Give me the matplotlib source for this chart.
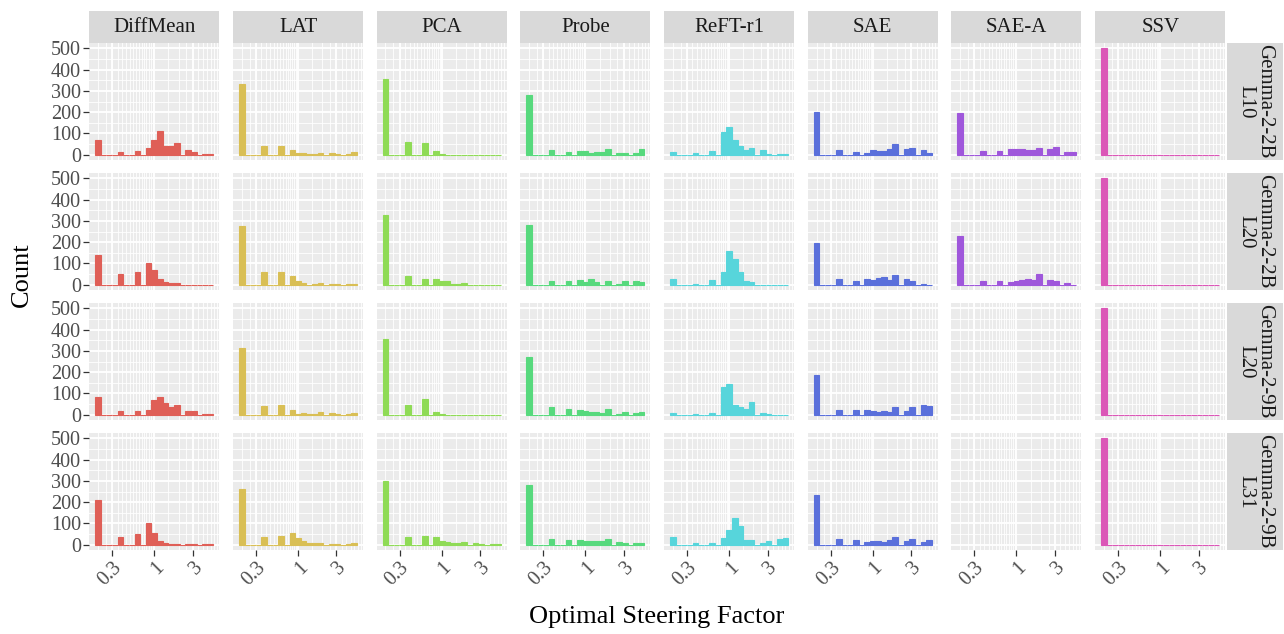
import numpy as np
import matplotlib
matplotlib.use("Agg")
from matplotlib import pyplot as plt
from matplotlib.patches import Rectangle

# histogram of optimal steering factor, one panel per method (cols) and model/layer (rows)
methods = ["DiffMean", "LAT", "PCA", "Probe", "ReFT-r1", "SAE", "SAE-A", "SSV"]
models = ["Gemma-2-2B\nL10", "Gemma-2-2B\nL20", "Gemma-2-9B\nL20", "Gemma-2-9B\nL31"]
colors = ["#DF5F57", "#D9BF55", "#8FDB56", "#57D97D", "#57D5DB", "#5A70DB", "#9F57DB", "#DB57B7"]

# factor range is 0.2 .. 5, 21 log-spaced bins
factor_min = 0.2
factor_max = 5.0
n_bins = 21

# counts per bin, one list per method (None = no data)
counts_2b_l10 = [
    [70, 0, 0, 0, 14, 0, 0, 19, 0, 30, 70, 113, 42, 42, 56, 0, 20, 14, 0, 3, 3],
    [330, 0, 0, 0, 39, 0, 0, 39, 0, 23, 9, 9, 2, 5, 9, 0, 9, 2, 0, 5, 11],
    [356, 0, 0, 0, 61, 0, 0, 56, 0, 19, 5, 0, 0, 0, 0, 0, 0, 0, 0, 0, 0],
    [281, 0, 0, 0, 23, 0, 0, 14, 0, 19, 19, 9, 14, 14, 28, 0, 9, 9, 0, 9, 28],
    [14, 0, 0, 0, 9, 0, 0, 19, 0, 108, 131, 70, 42, 23, 33, 0, 23, 5, 0, 5, 5],
    [202, 0, 0, 0, 23, 0, 0, 14, 0, 9, 23, 19, 19, 28, 52, 0, 28, 33, 0, 23, 9],
    [197, 0, 0, 0, 19, 0, 0, 19, 0, 28, 28, 28, 23, 23, 33, 0, 28, 37, 0, 14, 14],
    [500, 0, 0, 0, 0, 0, 0, 0, 0, 0, 0, 0, 0, 0, 0, 0, 0, 0, 0, 0, 0],
]
counts_2b_l20 = [
    [141, 0, 0, 0, 52, 0, 0, 61, 0, 103, 70, 28, 14, 9, 9, 0, 0, 0, 0, 0, 0],
    [277, 0, 0, 0, 61, 0, 0, 61, 0, 42, 19, 9, 0, 5, 9, 0, 5, 5, 0, 2, 2],
    [328, 0, 0, 0, 42, 0, 0, 28, 0, 28, 19, 19, 5, 5, 9, 0, 0, 0, 0, 0, 0],
    [281, 0, 0, 0, 19, 0, 0, 19, 0, 23, 14, 28, 14, 0, 19, 0, 5, 19, 0, 19, 14],
    [28, 0, 0, 0, 5, 0, 0, 23, 0, 61, 159, 122, 61, 19, 14, 0, 0, 0, 0, 0, 0],
    [197, 0, 0, 0, 28, 0, 0, 19, 0, 28, 23, 33, 37, 23, 47, 0, 28, 19, 0, 5, 0],
    [229, 0, 0, 0, 19, 0, 0, 19, 0, 14, 19, 23, 28, 23, 52, 0, 23, 19, 0, 9, 0],
    [500, 0, 0, 0, 0, 0, 0, 0, 0, 0, 0, 0, 0, 0, 0, 0, 0, 0, 0, 0, 0],
]
counts_9b_l20 = [
    [84, 0, 0, 0, 19, 0, 0, 19, 0, 23, 70, 84, 56, 37, 47, 0, 19, 19, 0, 5, 5],
    [314, 0, 0, 0, 42, 0, 0, 47, 0, 23, 5, 9, 5, 5, 14, 0, 9, 5, 0, 5, 9],
    [356, 0, 0, 0, 47, 0, 0, 75, 0, 14, 5, 0, 0, 0, 0, 0, 0, 0, 0, 0, 0],
    [272, 0, 0, 0, 37, 0, 0, 28, 0, 23, 19, 14, 14, 9, 28, 0, 5, 14, 0, 9, 14],
    [9, 0, 0, 0, 5, 0, 0, 9, 0, 131, 145, 47, 37, 28, 61, 0, 9, 5, 0, 0, 0],
    [187, 0, 0, 0, 23, 0, 0, 23, 0, 23, 19, 14, 19, 14, 37, 0, 19, 37, 0, 47, 42],
    None,
    [500, 0, 0, 0, 0, 0, 0, 0, 0, 0, 0, 0, 0, 0, 0, 0, 0, 0, 0, 0, 0],
]
counts_9b_l31 = [
    [209, 0, 0, 0, 38, 0, 0, 52, 0, 100, 57, 19, 10, 5, 5, 0, 5, 5, 0, 2, 2],
    [262, 0, 0, 0, 38, 0, 0, 43, 0, 57, 33, 19, 10, 10, 8, 0, 5, 5, 0, 3, 7],
    [300, 0, 0, 0, 35, 0, 0, 43, 0, 38, 19, 14, 10, 10, 14, 0, 10, 5, 0, 5, 5],
    [281, 0, 0, 0, 29, 0, 0, 24, 0, 24, 19, 19, 19, 19, 29, 0, 14, 10, 0, 10, 10],
    [38, 0, 0, 0, 10, 0, 0, 10, 0, 33, 71, 124, 86, 24, 24, 0, 10, 19, 0, 29, 33],
    [233, 0, 0, 0, 29, 0, 0, 24, 0, 14, 19, 19, 14, 24, 38, 0, 19, 29, 0, 14, 24],
    None,
    [500, 0, 0, 0, 0, 0, 0, 0, 0, 0, 0, 0, 0, 0, 0, 0, 0, 0, 0, 0, 0],
]
all_counts = [counts_2b_l10, counts_2b_l20, counts_9b_l20, counts_9b_l31]

x_ticks = [0.3, 1, 3]
x_ticklabels = ["0.3", "1", "3"]
y_ticks = [0, 100, 200, 300, 400, 500]

plt.rcParams["font.family"] = ["Liberation Serif", "DejaVu Serif"]

# bins in log space (ggplot style: centred on min and max)
lo, hi = np.log10(factor_min), np.log10(factor_max)
bw = (hi - lo) / (n_bins - 1)
edges = 10 ** np.linspace(lo - bw / 2, hi + bw / 2, n_bins + 1)
centers = 10 ** np.linspace(lo, hi, n_bins)
span = (hi - lo) + bw
xlim = (10 ** (lo - bw / 2 - 0.05 * span), 10 ** (hi + bw / 2 + 0.05 * span))

W, H = 1284, 634
fig = plt.figure(figsize=(W / 100, H / 100), dpi=100)

pan_w, pan_h = 130, 117
col_step, row_step = 143.7, 130
left0, top0 = 89.3, 43
strip_h = 32
strip_w = 56

minor_x = []
for d in [0.1, 1]:
    for s in np.arange(1, 10, 0.5):
        minor_x.append(s * d)
minor_x = [v for v in minor_x if xlim[0] < v < xlim[1] and v not in x_ticks]

for r, model in enumerate(models):
    for c, method in enumerate(methods):
        x0 = left0 + col_step * c
        y0 = top0 + row_step * r
        ax = fig.add_axes([x0 / W, 1 - (y0 + pan_h) / H, pan_w / W, pan_h / H])
        ax.set_facecolor("#EBEBEB")
        ax.set_xscale("log")
        ax.set_xlim(xlim)
        ax.set_ylim(-25, 525)
        for v in minor_x:
            ax.axvline(v, color="white", lw=0.7, alpha=0.85, zorder=0)
        for v in x_ticks:
            ax.axvline(v, color="white", lw=1.3, zorder=0)
        for v in range(50, 500, 100):
            ax.axhline(v, color="white", lw=0.7, alpha=0.85, zorder=0)
        for v in y_ticks:
            ax.axhline(v, color="white", lw=1.3, zorder=0)

        counts = all_counts[r][c]
        if counts is not None:
            ax.hist(centers, bins=edges, weights=counts, color=colors[c],
                    edgecolor=colors[c], linewidth=0.8, zorder=2)

        for sp in ax.spines.values():
            sp.set_visible(False)
        ax.minorticks_off()
        ax.set_xticks(x_ticks)
        ax.set_yticks(y_ticks)
        ax.tick_params(colors="#333333", length=4, width=0.9, labelcolor="#4D4D4D",
                       labelsize=14.5, pad=2)
        if r == len(models) - 1:
            ax.set_xticklabels(x_ticklabels, rotation=45, ha="right",
                               rotation_mode="anchor")
        else:
            ax.tick_params(axis="x", length=0)
            ax.set_xticklabels([])
        if c == 0:
            ax.set_yticklabels([str(v) for v in y_ticks])
        else:
            ax.tick_params(axis="y", length=0)
            ax.set_yticklabels([])

        # facet strips
        if r == 0:
            fh = strip_h / pan_h
            ax.add_patch(Rectangle((0, 1), 1, fh, transform=ax.transAxes,
                                   facecolor="#D9D9D9", edgecolor="none", clip_on=False))
            ax.text(0.5, 1 + fh / 2, method, transform=ax.transAxes, ha="center",
                    va="center", fontsize=15, color="#1A1A1A")
        if c == len(methods) - 1:
            gap = 2 / pan_w
            fw = strip_w / pan_w
            ax.add_patch(Rectangle((1 + gap, 0), fw, 1, transform=ax.transAxes,
                                   facecolor="#D9D9D9", edgecolor="none", clip_on=False))
            ax.text(1 + gap + fw / 2, 0.5, model, transform=ax.transAxes, ha="center",
                    va="center", rotation=270, fontsize=15, color="#1A1A1A",
                    linespacing=1.0)

fig.text(22 / W, 1 - 275 / H, "Count", rotation=90, ha="center", va="center",
         fontsize=19)
fig.text(657 / W, 1 - 617 / H, "Optimal Steering Factor", ha="center", va="center",
         fontsize=19)

plt.savefig("out.png", dpi=100)
